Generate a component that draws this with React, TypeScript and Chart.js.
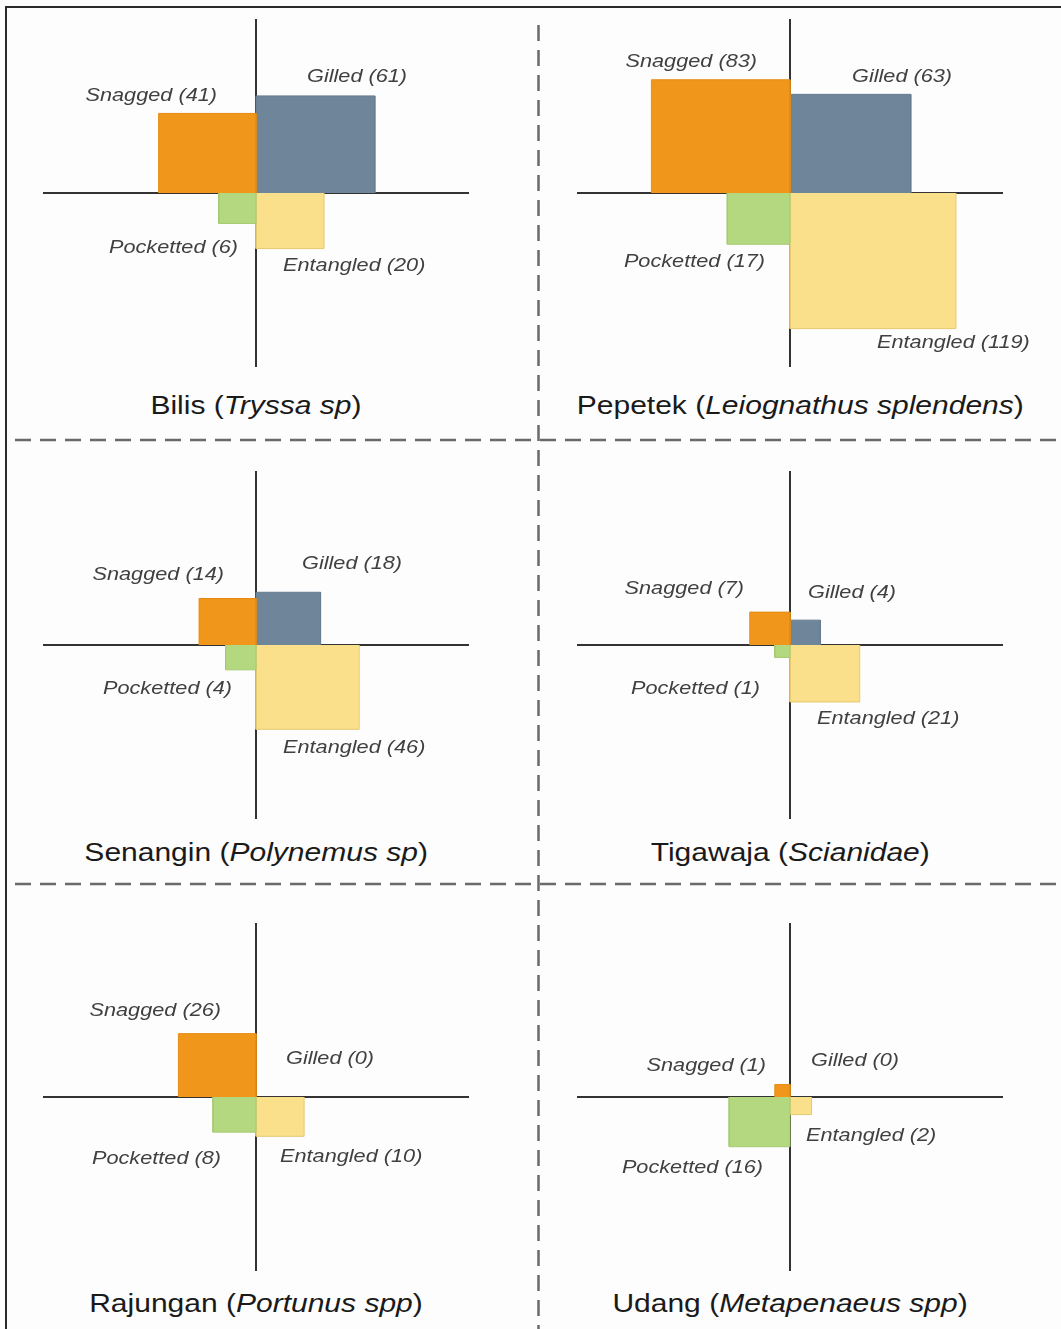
import React, { useEffect, useRef } from 'react';
import { Chart, registerables } from 'chart.js';

Chart.register(...registerables);

// ---------------- data ----------------
const species = ['Bilis', 'Pepetek', 'Senangin', 'Tigawaja', 'Rajungan', 'Udang'];
const scientificNames = ['Tryssa sp', 'Leiognathus splendens', 'Polynemus sp', 'Scianidae', 'Portunus spp', 'Metapenaeus spp'];
const categories = ['Snagged', 'Gilled', 'Pocketted', 'Entangled'];
const snagged = [41, 83, 14, 7, 26, 1];
const gilled = [61, 63, 18, 4, 0, 0];
const pocketted = [6, 17, 4, 1, 8, 16];
const entangled = [20, 119, 46, 21, 10, 2];
const axisExtent = 14; // in sqrt(count) units

// ---------------- styles / layout ----------------
const FILL = ['#F0961B', '#6F869A', '#B4D880', '#FBE08B'];
const EDGE = ['#E58C12', '#667C90', '#A6CB72', '#E6C86E'];
const QUAD: [number, number][] = [[-1, 1], [1, 1], [-1, -1], [1, -1]];
const COL_X = [256, 790];
const ROW_Y = [193, 645, 1097];
const TITLE_Y = [406, 853, 1304];
const TITLE_SHIFT = [0, 10, 0, 0, 0, 0];
const STRETCH = 1.24;
const TITLE_STRETCH = 1.2;
const HALF_W = 213;
const HALF_H = 174;
const CANVAS_W = 520;
const CANVAS_H = 380;
const PAD_L = 250 - HALF_W;
const PAD_T = 190 - HALF_H;
// label offsets (px) from the axis crossing, per panel: Snagged, Gilled, Pocketted, Entangled
const LABEL_OFF: [number, number][][] = [
  [[-39, -97], [51, -116], [-18, 55], [27, 73]],
  [[-33, -131], [62, -116], [-25, 69], [87, 150]],
  [[-32, -70], [46, -81], [-24, 44], [27, 103]],
  [[-46, -56], [18, -52], [-30, 44], [27, 74]],
  [[-35, -86], [30, -38], [-35, 62], [24, 60]],
  [[-24, -31], [21, -36], [-27, 71], [16, 39]],
];

const quadLabels = {
  id: 'quadLabels',
  afterDraw(chart: any, _args: any, opts: any) {
    const { ctx, scales } = chart;
    const ox = scales.x.getPixelForValue(0);
    const oy = scales.y.getPixelForValue(0);
    (opts.texts as string[]).forEach((t, i) => {
      const [dx, dy] = opts.offsets[i];
      ctx.save();
      ctx.font = 'italic 17.5px "Liberation Sans", Arial, sans-serif';
      ctx.fillStyle = '#404040';
      ctx.textBaseline = 'middle';
      ctx.textAlign = QUAD[i][0] < 0 ? 'right' : 'left';
      ctx.translate(ox + dx, oy + dy);
      ctx.scale(STRETCH, 1);
      ctx.fillText(t, 0, 0);
      ctx.restore();
    });
  },
};

function Panel({ p }: { p: number }) {
  const ref = useRef<HTMLCanvasElement | null>(null);
  const cx = COL_X[p % 2];
  const cy = ROW_Y[Math.floor(p / 2)];
  useEffect(() => {
    if (!ref.current) return;
    const values = [snagged[p], gilled[p], pocketted[p], entangled[p]];
    const datasets = values.map((v, i) => {
      const s = Math.sqrt(v);
      const [sx, sy] = QUAD[i];
      const pts = sx < 0
        ? [{ x: -s, y: 0 }, { x: -s, y: sy * s }, { x: 0, y: sy * s }, { x: 0, y: 0 }]
        : [{ x: 0, y: 0 }, { x: 0, y: sy * s }, { x: s, y: sy * s }, { x: s, y: 0 }];
      return {
        label: categories[i],
        data: pts,
        fill: 'origin',
        backgroundColor: FILL[i],
        borderColor: EDGE[i],
        borderWidth: v > 0 ? 1 : 0,
        pointRadius: 0,
        tension: 0,
      };
    });
    const axisGrid = {
      color: (c: any) => (c.tick && c.tick.value === 0 ? '#333333' : 'rgba(0,0,0,0)'),
      lineWidth: 2,
      drawTicks: false,
    };
    const axis = {
      type: 'linear',
      min: -axisExtent,
      max: axisExtent,
      ticks: { display: false, stepSize: axisExtent },
      grid: axisGrid,
      border: { display: false },
      z: 1,
    };
    const chart = new Chart(ref.current, {
      type: 'line',
      data: { datasets: datasets as any },
      options: {
        animation: false,
        responsive: false,
        events: [],
        layout: {
          padding: {
            left: PAD_L,
            right: CANVAS_W - PAD_L - 2 * HALF_W,
            top: PAD_T,
            bottom: CANVAS_H - PAD_T - 2 * HALF_H,
          },
        },
        scales: {
          x: { ...axis, afterFit: (s: any) => { s.height = 0; } } as any,
          y: { ...axis, afterFit: (s: any) => { s.width = 0; } } as any,
        },
        plugins: {
          legend: { display: false },
          tooltip: { enabled: false },
          quadLabels: {
            texts: categories.map((c, i) => `${c} (${values[i]})`),
            offsets: LABEL_OFF[p],
          },
        } as any,
      },
      plugins: [quadLabels as any],
    });
    return () => chart.destroy();
  }, [p]);
  const tcx = cx + TITLE_SHIFT[p];
  return (
    <>
      <canvas
        ref={ref}
        width={CANVAS_W}
        height={CANVAS_H}
        style={{ position: 'absolute', left: cx - 250, top: cy - 190, width: CANVAS_W, height: CANVAS_H }}
      />
      <div
        style={{
          position: 'absolute',
          left: tcx - 300,
          width: 600,
          top: TITLE_Y[Math.floor(p / 2)] - 15,
          height: 30,
          lineHeight: '30px',
          textAlign: 'center',
          whiteSpace: 'nowrap',
        }}
      >
        <span
          style={{
            display: 'inline-block',
            transform: `scaleX(${TITLE_STRETCH})`,
            transformOrigin: 'center',
            font: '25px "Liberation Sans", Arial, sans-serif',
            color: '#1a1a1a',
          }}
        >
          {species[p]} (<i>{scientificNames[p]}</i>)
        </span>
      </div>
    </>
  );
}

export default function App() {
  return (
    <div
      style={{
        position: 'absolute',
        left: 0,
        top: 0,
        width: 1061,
        height: 1329,
        overflow: 'hidden',
        background: '#fdfdfd',
      }}
    >
      <div
        style={{
          position: 'absolute',
          left: 5,
          top: 6,
          width: 1100,
          height: 1400,
          borderLeft: '2px solid #2a2a2a',
          borderTop: '2px solid #2a2a2a',
        }}
      />
      <svg width={1061} height={1329} style={{ position: 'absolute', left: 0, top: 0 }}>
        <g stroke="#6a6a6a" strokeWidth={2.5} strokeDasharray="16 9">
          <line x1={538.5} y1={25} x2={538.5} y2={1329} />
          <line x1={15} y1={440} x2={1056} y2={440} />
          <line x1={15} y1={884} x2={1056} y2={884} />
        </g>
      </svg>
      {species.map((_, p) => (
        <Panel key={p} p={p} />
      ))}
    </div>
  );
}
